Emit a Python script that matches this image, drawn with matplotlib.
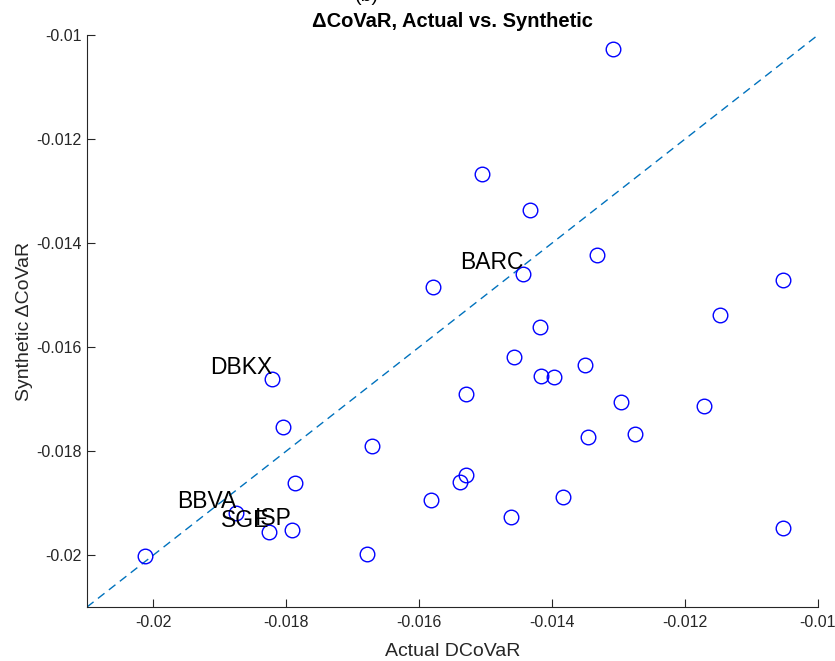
import matplotlib
matplotlib.use("Agg")
import matplotlib.pyplot as plt

plt.rcParams['font.family'] = ['Liberation Sans', 'DejaVu Sans']

# Actual vs synthetic Delta-CoVaR per bank
actual = [-0.013085, -0.015056, -0.014333, -0.013325, -0.014438, -0.015793,
          -0.010525, -0.011473, -0.014182, -0.014574, -0.013505, -0.014167,
          -0.013972, -0.018216, -0.015296, -0.012963, -0.011714, -0.018050,
          -0.013460, -0.012753, -0.016711, -0.017870, -0.015296, -0.015386,
          -0.013836, -0.015823, -0.018757, -0.014619, -0.018261, -0.017915,
          -0.010525, -0.020127, -0.016786]
synthetic = [-0.010270, -0.012673, -0.013365, -0.014231, -0.014596, -0.014846,
             -0.014711, -0.015384, -0.015615, -0.016192, -0.016346, -0.016557,
             -0.016577, -0.016615, -0.016904, -0.017058, -0.017135, -0.017538,
             -0.017730, -0.017673, -0.017904, -0.018615, -0.018461, -0.018596,
             -0.018884, -0.018942, -0.019192, -0.019269, -0.019557, -0.019519,
             -0.019480, -0.020019, -0.019981]
labels = ['', '', '', '', 'BARC', '', '', '', '', '', '', '', '', 'DBKX',
          '', '', '', '', '', '', '', '', '', '', '', '', 'BBVA', '', 'SGE',
          'ISP', '', '', '']

lim = [-0.021, -0.01]
xticks = [-0.02, -0.018, -0.016, -0.014, -0.012, -0.01]
yticks = [-0.02, -0.018, -0.016, -0.014, -0.012, -0.01]
tick_labels = ['-0.02', '-0.018', '-0.016', '-0.014', '-0.012', '-0.01']

axcol = (0.15, 0.15, 0.15)

fig = plt.figure(figsize=(8.35, 6.61), dpi=100)
ax = fig.add_axes([87/835, 1 - 607/661, 731/835, 572/661])

ax.plot(lim, lim, linestyle=(0, (6, 4)), color=(0, 0.447, 0.741), linewidth=1.0)
ax.plot(actual, synthetic, 'o', markerfacecolor='none', markeredgecolor='b',
        markersize=10.5, markeredgewidth=1.0)

for x, y, s in zip(actual, synthetic, labels):
    if s:
        ax.text(x, y, s, ha='right', va='bottom', fontsize=16.5, color='black')

ax.set_xlim(lim)
ax.set_ylim(lim)
ax.set_xticks(xticks)
ax.set_xticklabels(tick_labels)
ax.set_yticks(yticks)
ax.set_yticklabels(tick_labels)
for side in ['top', 'right']:
    ax.spines[side].set_visible(False)
for side in ['left', 'bottom']:
    ax.spines[side].set_color(axcol)
    ax.spines[side].set_linewidth(0.8)
ax.tick_params(direction='in', length=6, width=0.8, colors=axcol,
               labelsize=11.5)
ax.tick_params(axis='y', pad=4)
ax.tick_params(axis='x', pad=6)

ax.set_xlabel('Actual DCoVaR', fontsize=14, color=axcol, labelpad=9)
ax.set_ylabel('Synthetic \u0394CoVaR', fontsize=14, color=axcol, labelpad=2)
ax.set_title('\u0394CoVaR, Actual vs. Synthetic', fontsize=14.5,
             fontweight='bold', color='black', pad=6)
fig.text(367/835, 1 - 1/661, '(b)', fontsize=14, ha='center', va='baseline')

fig.savefig('out.png', dpi=100)
